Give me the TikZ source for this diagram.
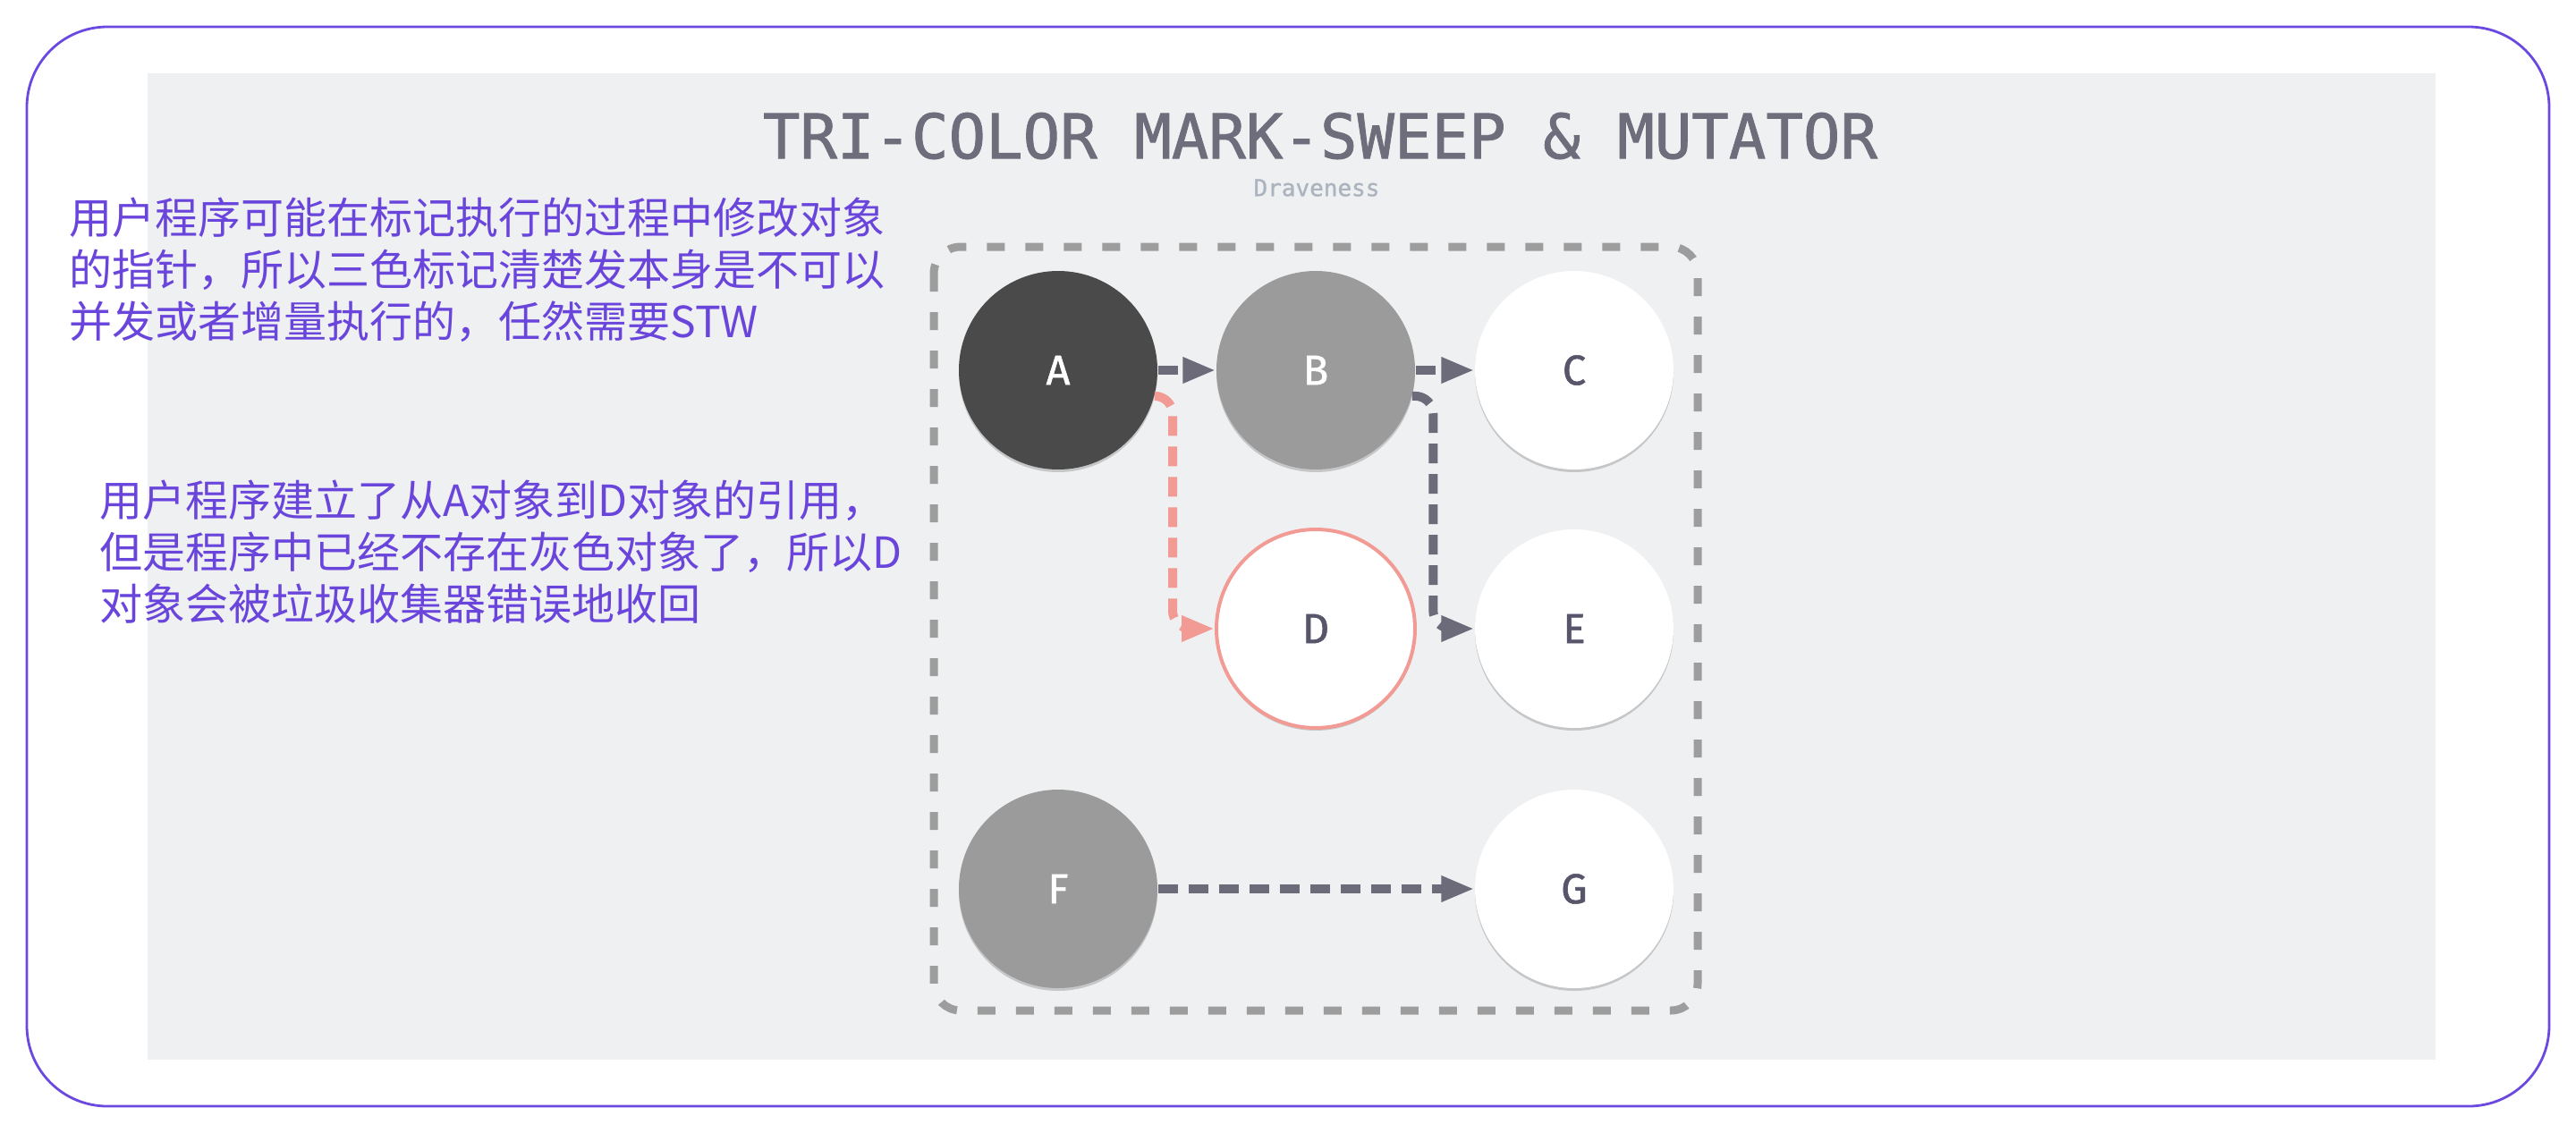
\documentclass[tikz,border=0pt]{standalone}
\usepackage{fontspec}
\usepackage{tikz}
\usetikzlibrary{arrows.meta,shadows}
\newfontfamily\cjkfont{Noto Sans CJK SC}
\newfontfamily\monofont[FakeBold=1.2]{DejaVu Sans Mono}
\newfontfamily\authorfont[FakeBold=1]{DejaVu Sans Mono}
\newfontfamily\labelfont[FakeBold=1.2]{Fira Sans}
\definecolor{outline}{HTML}{6B48E0}
\definecolor{notecol}{HTML}{6A45DC}
\definecolor{canvas}{HTML}{EFF0F2}
\definecolor{titlecol}{HTML}{6E6D7B}
\definecolor{authorcol}{HTML}{ABB4BE}
\definecolor{objblack}{HTML}{4A4A4A}
\definecolor{objgrey}{HTML}{9B9B9B}
\definecolor{labeldark}{HTML}{56556A}
\definecolor{refcol}{HTML}{6C6B7A}
\definecolor{mutcol}{HTML}{F29B95}
\definecolor{heapcol}{HTML}{9D9D9D}

\begin{document}
\begin{tikzpicture}[
  obj/.style={circle, minimum size=2.22cm, inner sep=0pt,
    font=\labelfont\fontsize{0.47cm}{0.5cm}\selectfont,
    drop shadow={shadow xshift=0cm, shadow yshift=-0.03cm, fill=black!60, opacity=0.3}},
  black obj/.style={obj, fill=objblack, text=white},
  grey obj/.style={obj, fill=objgrey, text=white},
  white obj/.style={obj, fill=white, text=labeldark},
  ref/.style={draw=refcol, line width=0.1cm, dash pattern=on 0.22cm off 0.12cm,
    -{Triangle[length=0.37cm,width=0.27cm]}},
  note/.style={anchor=north west, align=left, inner sep=0pt, text=notecol,
    font=\cjkfont\fontsize{0.48cm}{0.58cm}\selectfont}
]
\useasboundingbox (0,0) rectangle (28.8,-12.67);
\draw[outline, line width=0.028cm, rounded corners=0.9cm] (0.30,-0.30) rectangle (28.50,-12.37);
\fill[canvas] (1.65,-0.82) rectangle (27.23,-11.85);

\node[inner sep=0pt, text=titlecol, font=\monofont\fontsize{0.69cm}{0.8cm}\selectfont] (title) at (14.76,-1.52) {TRI-COLOR MARK-SWEEP \& MUTATOR};
\node[inner sep=0pt, text=authorcol, font=\authorfont\fontsize{0.26cm}{0.3cm}\selectfont] (author) at (14.72,-2.10) {Draveness};

% heap
\draw[heapcol, line width=0.09cm, dash pattern=on 0.2cm off 0.23cm, rounded corners=0.3cm] (10.44,-2.76) rectangle (18.98,-11.30);

\node[black obj] (a) at (11.83,-4.14) {A};
\node[grey obj] (b) at (14.71,-4.14) {B};
\node[white obj] (c) at (17.60,-4.14) {C};
\node[white obj, draw=mutcol, line width=0.04cm] (d) at (14.71,-7.03) {D};
\node[white obj] (e) at (17.60,-7.03) {E};
\node[grey obj] (f) at (11.83,-9.94) {F};
\node[white obj] (g) at (17.60,-9.94) {G};

\draw[ref] (a) -- (b);
\draw[ref] (b) -- (c);
\draw[ref, rounded corners=0.2cm] (b.-15) -| ([xshift=-0.46cm]e.west) -- (e.west);
\draw[ref, draw=mutcol, rounded corners=0.2cm] (a.-15) -| ([xshift=-0.47cm]d.west) -- (d.west);
\draw[ref] (f) -- (g);

\node[note] (note1) at (0.77,-2.20) {用户程序可能在标记执行的过程中修改对象\\的指针，所以三色标记清楚发本身是不可以\\并发或者增量执行的，任然需要STW};
\node[note] (note2) at (1.11,-5.36) {用户程序建立了从A对象到D对象的引用，\\但是程序中已经不存在灰色对象了，所以D\\对象会被垃圾收集器错误地收回};
\end{tikzpicture}
\end{document}
